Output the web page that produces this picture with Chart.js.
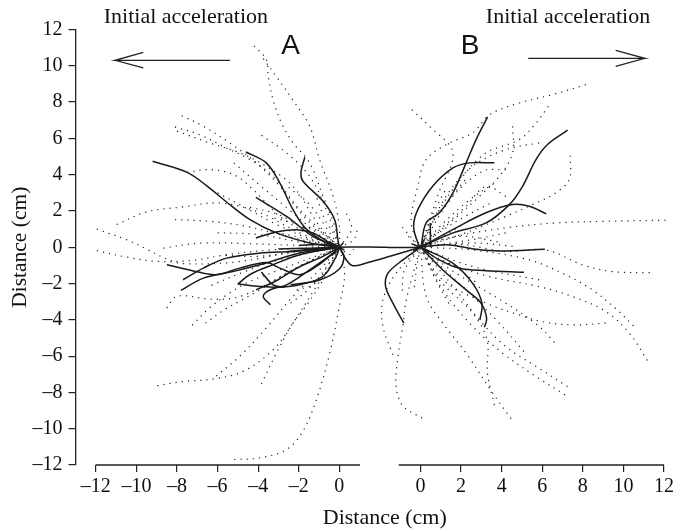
<!DOCTYPE html>
<html lang="en">
<head>
<meta charset="UTF-8">
<title>Distance</title>
<script src="https://cdn.jsdelivr.net/npm/chart.js"></script>
<style>
body { margin: 0; background: #fff; }
canvas { display: block; }
</style>
</head>
<body>
<canvas id="grafico" width="675" height="531"></canvas>
<script>
// panel B sits on the same x scale, moved right by this many cm
var panelOffset = 4;
var yTicks = [-12, -10, -8, -6, -4, -2, 0, 2, 4, 6, 8, 10, 12];
var xTicksA = [-12, -10, -8, -6, -4, -2, 0];
var xTicksB = [0, 2, 4, 6, 8, 10, 12];
var xAxisA = [[-12, -12], [1.02, -12]];
var xAxisB = [[-1.07, -12], [12, -12]];

var arrowA = [[-5.39, 10.3], [-11.05, 10.3], [-9.66, 10.74], [-11.05, 10.3], [-9.66, 9.88]];
var arrowB = [[5.31, 10.41], [11.05, 10.41], [9.62, 10.85], [11.05, 10.41], [9.62, 9.97]];

var solidA = [
  [[-9.2, 4.74], [-7.5, 4.13], [-6.5, 3.36], [-5.5, 2.44], [-4.4, 1.52], [-3.1, 0.79], [-1.46, 0.24], [0, 0]],
  [[-4.6, 5.25], [-3.6, 4.65], [-2.93, 3.54], [-2.28, 2.07], [-1.6, 0.97], [-0.64, 0.24], [0, 0]],
  [[-1.7, 4.96], [-1.89, 4.1], [-1.79, 3.64], [-0.8, 2.53], [-0.23, 1.52], [-0.07, 0.42], [0, 0]],
  [[-4.11, 2.75], [-2.6, 1.7], [-1.3, 0.6], [0, 0]],
  [[-4.11, 0.51], [-3.1, 0.84], [-2.1, 0.97], [-1.3, 0.79], [-0.47, 0.24], [0, 0]],
  [[-8.5, -0.96], [-6.95, -1.37], [-6.05, -1.51], [-4.9, -1.15], [-3.6, -0.84], [-2.93, -1.15], [-1.95, -1.51], [-1.13, -1.06], [-0.3, -0.32], [0, 0]],
  [[-7.7, -1.79], [-6.7, -1.15], [-5.56, -0.6], [-3.9, -0.32], [-2.3, -0.23], [0, 0]],
  [[-7.8, -2.38], [-6.7, -1.7], [-5.2, -1.33], [-3.6, -0.87], [-1.95, -0.32], [0, 0]],
  [[-5, -2.03], [-4.4, -1.5], [-3.26, -0.96], [-1.9, -0.4], [0, 0]],
  [[-5, -2.03], [-3.9, -2.16], [-2.93, -2.2], [-1.95, -2.07], [-0.8, -1.6], [-0.15, -0.5], [0, 0]],
  [[-3.4, -3.17], [-3.75, -2.7], [-3.4, -2.34], [-2.6, -2.07], [-1.46, -1.24], [-0.3, -0.32], [0, 0]],
  [[-3.84, -1.37], [-3.26, -2.07], [-2.7, -2.2]],
  [[-4.1, -2.34], [-3.2, -1.9], [-2, -1.1], [-0.8, -0.5], [0, 0]],
  [[-2.4, -2.07], [-0.97, -1.8], [0, -1.2], [0.23, -0.5], [0, 0]],
  [[-3, -0.1], [-1.5, -0.05], [0, 0]],
  [[-2.6, -0.25], [-1.3, -0.1], [0, 0]],
  [[-2, 0.1], [-1, 0.15], [0, 0]],
  [[-0.7, 0.15], [0, 0]],
  [[-0.5, 0.3], [0, 0]],
  [[-0.3, -0.4], [0, 0]],
  [[0.2, 0.25], [0, 0]],
  [[0.25, -0.15], [0, 0]],
  [[0, 0], [1.5, 0.02], [3, -0.02], [4, 0]],
  [[0, 0], [0.34, -0.69], [0.67, -1.02], [1.33, -0.87], [2.5, -0.5], [4, 0]]
];

var dottedA = [
  [[-4.2, 11.1], [-3.6, 10.34], [-3.5, 9.4], [-3.26, 8.1], [-2.85, 6.85], [-2.28, 5.75], [-1.46, 4.65], [-0.8, 2.8], [-0.23, 1.16], [0, 0]],
  [[-3.75, 10.4], [-3.1, 9.4], [-2.28, 8.1], [-1.46, 6.67], [-0.97, 4.83], [-0.3, 2.8], [0, 1.16], [0, 0]],
  [[-7.77, 7.25], [-6.7, 6.67], [-5.4, 5.75], [-4.08, 4.65], [-2.93, 3.36], [-1.6, 1.52], [0, 0]],
  [[-8.1, 6.63], [-6.87, 6.2], [-5.56, 5.47], [-4.4, 4.83], [-3.26, 3.9], [-1.95, 2.07], [0, 0]],
  [[-8, 6.4], [-6.4, 5.75], [-4.9, 5.2], [-3.6, 4.46], [-2.28, 3.36], [-0.97, 1.16], [0, 0]],
  [[-3.84, 6.17], [-2.6, 5.2], [-1.46, 3.9], [-0.64, 2.07], [0, 0]],
  [[-7.5, 4.13], [-6.4, 4.28], [-5.2, 4], [-4.25, 3.18], [-2.93, 1.7], [-1.3, 0.6], [0, 0]],
  [[-10.97, 1.25], [-9.5, 1.95], [-7.7, 2.22], [-5.9, 2.44], [-3.9, 1.9], [-1.95, 0.79], [0, 0]],
  [[-8.1, 1.52], [-6.4, 1.43], [-4.6, 1.16], [-2.6, 0.6], [0, 0]],
  [[-11.95, 1], [-10.5, 0.42], [-9.5, -0.1], [-8.6, -0.6], [-7.7, -0.9], [-5, -0.8], [-2, -0.2], [0, 0]],
  [[-11.95, -0.19], [-10.5, -0.54], [-9, -0.78], [-7.2, -0.72], [-5.56, -0.41], [-3.26, -0.14], [0, 0]],
  [[-8.5, -3.35], [-8, -2.7], [-6.4, -2.85], [-5.2, -2.8], [-4.1, -2.34], [-2.6, -1.42], [-0.97, -0.5], [0, 0]],
  [[-7.25, -4.3], [-6.4, -3.35], [-5.4, -2.52], [-4.4, -1.88], [-2.93, -1.24], [0, 0]],
  [[-6.6, -4.18], [-5.7, -3.47], [-4.8, -2.9], [-3.9, -2.34], [-2.3, -1.24], [0, 0]],
  [[-8.97, -7.63], [-7.7, -7.4], [-6.2, -7.26], [-4.74, -6.84], [-3.26, -5.65], [-2.28, -4.18], [-1.13, -2.16], [-0.15, -0.5], [0, 0]],
  [[-6.06, -7.1], [-4.9, -6], [-3.6, -4.45], [-2.28, -2.7], [-0.97, -1.24], [0, 0]],
  [[-3.84, -7.54], [-3.1, -5.83], [-2.28, -4.18], [-1.54, -3.08], [-0.8, -1.8], [0, 0]],
  [[-5.18, -11.7], [-3.9, -11.6], [-2.6, -11.15], [-1.8, -10.15], [-1.13, -8.4], [-0.47, -5.83], [0, -3.26], [0.26, -1.43], [0, 0]],
  [[-5.2, 4.65], [-3.9, 3.4], [-2.4, 2], [-1, 0.7], [0, 0]],
  [[-6, 3], [-4.5, 2.1], [-3, 1.2], [-1.3, 0.4], [0, 0]],
  [[-6, 0.8], [-4, 0.7], [-2, 0.3], [0, 0]],
  [[-8.67, -0.05], [-6.87, 0.23], [-4.6, 0.2], [-2, 0.1], [0, 0]],
  [[-5.6, -0.45], [-4, -0.5], [-2, -0.25], [0, 0]],
  [[-6.3, -2.1], [-4.8, -1.4], [-3, -0.7], [0, 0]],
  [[-2.4, -3.08], [-1.6, -2.4], [-0.7, -1.2], [0, 0]],
  [[-2.1, -2.35], [-1.2, -2], [-0.5, -0.9], [0, 0]],
  [[-3.2, 1.6], [-2.2, 1.3], [-1, 0.6], [0, 0]],
  [[-2.5, 3.3], [-1.5, 2.4], [-0.6, 1], [0, 0]],
  [[-4.4, 2.2], [-3, 1.8], [-1.5, 0.9], [0, 0]],
  [[-3.4, 0.9], [-2, 0.55], [-0.8, 0.2], [0, 0]],
  [[-1.8, 1.1], [-1, 0.9], [-0.4, 0.4], [0, 0]],
  [[-1.1, 2.7], [-0.7, 1.5], [-0.25, 0.7], [0, 0]],
  [[0, 0], [0.6, 1], [0.3, 2]],
  [[0, 0], [0.7, 0.4], [0.9, 1]],
  [[0, 0], [0.5, -0.4], [0.7, -0.1]]
];

var solidB = [
  [[3.31, 7.18], [2.74, 5.93], [2.25, 4.65], [1.6, 3], [0.93, 1.9], [0.28, 1.34], [0.03, 0.05]],
  [[3.64, 4.65], [2.41, 4.65], [1.6, 4.37], [0.6, 3.36], [-0.13, 2.07], [-0.34, 1.16], [-0.13, 0.24], [0, 0]],
  [[7.25, 6.45], [6.26, 5.66], [5.69, 4.83], [5.03, 3.36], [4.38, 2.35], [3.23, 1.34], [1.6, 0.79], [0, 0]],
  [[6.2, 1.84], [5.36, 2.26], [4.54, 2.35], [3.23, 1.9], [1.75, 1.07], [0, 0]],
  [[0.48, 1.34], [0.5, 0]],
  [[6.13, -0.11], [3.88, -0.2], [2.74, -0.11], [1.43, 0.13], [0.44, 0.07], [0, 0]],
  [[5.1, -1.38], [3.23, -1.29], [1.92, -1.16], [0.93, -0.7], [0, 0]],
  [[2.93, -4], [3.03, -3.08], [2.56, -1.98], [1.59, -0.88], [0, 0]],
  [[3.15, -4.41], [3.26, -3.91], [2.98, -3.08], [2.25, -2.35], [1.1, -1.25], [0, 0]],
  [[-0.82, -4.18], [-1.36, -3.08], [-1.72, -2.16], [-1.6, -1.43], [-0.87, -0.7], [0, 0]],
  [[-0.45, 0.2], [0, 0]],
  [[-0.35, -0.2], [0, 0]],
  [[0.5, 0.3], [0, 0]],
  [[0.45, -0.25], [0, 0]],
  [[0.2, 0.45], [0, 0]]
];

var dottedB = [
  [[8.15, 8.96], [6.5, 8.41], [4.87, 7.95], [3.4, 7.3], [2.57, 6.3], [1.43, 5.75], [0.28, 4.83], [-0.13, 3.36], [-0.46, 1.34], [0, 0]],
  [[-0.43, 7.58], [0.44, 6.67], [1.6, 5.2], [0.9, 3], [0, 0]],
  [[7.38, 5.05], [7.33, 3.73], [6.67, 3], [5.69, 2.44], [4.2, 1.7], [1.75, 0.6], [0, 0]],
  [[12.08, 1.49], [9.13, 1.43], [6.67, 1.34], [4.2, 1.07], [1.75, 0.6], [0, 0]],
  [[6.3, 7.77], [5.7, 6.85], [4.87, 5.93], [3.23, 5.2], [2.08, 3.9], [0.93, 2.07], [0, 0]],
  [[4.54, 6.67], [4.54, 5.2], [3.88, 3.9], [2.9, 2.8], [1.43, 1.34], [0, 0]],
  [[5.85, 5.75], [4.2, 5.38], [2.57, 4.46], [1.26, 2.8], [0, 0]],
  [[4.2, 4.28], [3.07, 4.19], [1.6, 2.8], [0, 0]],
  [[4.2, 2.8], [3.23, 3.36], [2.25, 2.26], [0.77, 0.79], [0, 0]],
  [[4.2, 0.79], [2.57, 0.42], [0, 0]],
  [[4.54, 0.05], [2.57, 0.24], [0, 0]],
  [[11.3, -1.4], [9.46, -1.34], [7.98, -0.97], [6.18, -0.15], [4.2, -0.24], [2, 0.15], [0, 0]],
  [[10.5, -4.33], [9.6, -3.36], [8.47, -2.35], [7.16, -1.52], [5.36, -0.7], [2.57, -0.15], [0, 0]],
  [[11.18, -6.24], [10.3, -4.74], [9.13, -3.54], [7.5, -2.72], [5.85, -2.17], [3.4, -1.62], [0.93, -0.7], [0, 0]],
  [[9.13, -4.18], [7.5, -4.28], [6, -4.1], [4.87, -3.73], [3.23, -3.08], [1.1, -1.8], [0, 0]],
  [[7.25, -7.68], [5.85, -6.67], [4.2, -5.47], [2.9, -4], [1.75, -2.35], [0, 0]],
  [[7.13, -8.14], [5.7, -7.13], [4.05, -5.84], [2.57, -4.36], [1.1, -2.35], [0, 0]],
  [[4.46, -9.45], [3.56, -8.04], [2.25, -5.84], [1.1, -4.18], [0.28, -2.7], [0, 0]],
  [[0.08, -9.42], [-0.87, -8.74], [-1.2, -7.68], [-1.11, -6], [-0.87, -4.36], [-0.7, -2.9], [0, 0]],
  [[-1.36, -5.93], [-1.85, -4.36], [-1.85, -2.9], [-1.2, -1.43], [0, 0]],
  [[3.64, -8.7], [3.3, -6.94], [3.28, -5.1], [2.57, -3.63], [0.93, -1.8], [0, 0]],
  [[6.6, -5.25], [5.85, -4.36], [4.2, -3.08], [1.75, -1.43], [0, 0]],
  [[5.1, -5.75], [3.88, -4.18], [2.25, -2.35], [0, 0]],
  [[5.85, -1.8], [2.57, -1.06], [0, 0]],
  [[3.6, 3.5], [2.4, 2.6], [1.1, 1.3], [0, 0]],
  [[3.4, 2.4], [2.2, 1.7], [0.9, 0.8], [0, 0]],
  [[2.2, 3.7], [1.4, 2.6], [0.5, 1.2], [0, 0]],
  [[1.2, 3.1], [0.6, 1.8], [0, 0]],
  [[3.8, 0.3], [2.2, 0.6], [0.9, 0.4], [0, 0]],
  [[-0.9, -2.4], [-0.8, -1.3], [0, 0]],
  [[-0.3, -2.2], [-0.2, -1.2], [0, 0]],
  [[1.4, -3.1], [0.8, -1.9], [0, 0]],
  [[-0.6, 0.6], [-0.3, 0.3], [0, 0]],
  [[-0.9, 1.1], [-0.5, 0.6], [0, 0]],
  [[2.7, -1.9], [1.6, -1], [0.5, -0.4], [0, 0]],
  [[2, 1.2], [1.1, 0.6], [0, 0]]
];

function toPoints(linha, desloc) {
  return linha.map(function (p) { return { x: p[0] + desloc, y: p[1] }; });
}

function solida(linha, desloc) {
  return { data: toPoints(linha, desloc), borderColor: '#1a1a1a', borderWidth: 1.5, pointRadius: 0, tension: 0.35, clip: false };
}

function pontilhada(linha, desloc) {
  return { data: toPoints(linha, desloc), borderColor: '#222', borderWidth: 1.2, borderDash: [1.2, 5], pointRadius: 0, tension: 0.35, clip: false };
}

function reta(linha, desloc, largura) {
  return { data: toPoints(linha, desloc), borderColor: '#222', borderWidth: largura, pointRadius: 0, tension: 0, clip: false };
}

var datasets = [];
dottedA.forEach(function (l) { datasets.push(pontilhada(l, 0)); });
dottedB.forEach(function (l) { datasets.push(pontilhada(l, panelOffset)); });
solidA.forEach(function (l) { datasets.push(solida(l, 0)); });
solidB.forEach(function (l) { datasets.push(solida(l, panelOffset)); });
datasets.push(reta(arrowA, 0, 1.3));
datasets.push(reta(arrowB, panelOffset, 1.3));
datasets.push(reta(xAxisA, 0, 1.3));
datasets.push(reta(xAxisB, panelOffset, 1.3));

var textos = {
  id: 'textos',
  afterDraw: function (chart) {
    var ctx = chart.ctx, sx = chart.scales.x, sy = chart.scales.y;
    ctx.save();
    ctx.fillStyle = '#111';
    ctx.textAlign = 'center';
    ctx.textBaseline = 'middle';
    ctx.font = '22px "Liberation Serif"';
    ctx.fillText('Initial acceleration', sx.getPixelForValue(-7.56), sy.getPixelForValue(12.68));
    ctx.fillText('Initial acceleration', sx.getPixelForValue(11.27), sy.getPixelForValue(12.68));
    ctx.fillText('Distance (cm)', sx.getPixelForValue(2.24), 518);
    ctx.font = '28px "Liberation Sans"';
    ctx.fillText('A', sx.getPixelForValue(-2.4), sy.getPixelForValue(11.05));
    ctx.fillText('B', sx.getPixelForValue(2.45 + panelOffset), sy.getPixelForValue(11.05));
    ctx.restore();
  }
};

var fonteEixo = { family: '"Liberation Serif"', size: 20 };

new Chart(document.getElementById('grafico'), {
  type: 'line',
  data: { datasets: datasets },
  plugins: [textos],
  options: {
    responsive: false,
    animation: false,
    layout: { padding: { top: 29.5, right: 11, left: 0, bottom: 0 } },
    plugins: { legend: { display: false }, tooltip: { enabled: false } },
    scales: {
      x: {
        type: 'linear',
        min: -13,
        max: 12 + panelOffset,
        border: { display: false },
        grid: { drawOnChartArea: false, drawTicks: true, tickLength: 7, color: '#222', lineWidth: 1.2 },
        afterBuildTicks: function (eixo) {
          eixo.ticks = xTicksA.concat(xTicksB.map(function (v) { return v + panelOffset; })).map(function (v) { return { value: v }; });
        },
        afterFit: function (eixo) {
          eixo.height = 66;
          eixo.paddingLeft = 0;
          eixo.paddingRight = 0;
        },
        ticks: {
          autoSkip: false,
          maxRotation: 0,
          padding: 3,
          color: '#111',
          font: fonteEixo,
          callback: function (v) {
            var n = v > 0 ? v - panelOffset : v;
            return String(n).replace('-', '–');
          }
        }
      },
      y: {
        type: 'linear',
        min: -12,
        max: 12,
        border: { display: true, color: '#222', width: 1.3 },
        grid: { drawOnChartArea: false, drawTicks: true, tickLength: 7, color: '#222', lineWidth: 1.2 },
        afterBuildTicks: function (eixo) {
          eixo.ticks = yTicks.map(function (v) { return { value: v }; });
        },
        afterFit: function (eixo) {
          eixo.width = 75.5;
          eixo.paddingTop = 0;
          eixo.paddingBottom = 0;
        },
        ticks: {
          autoSkip: false,
          padding: 6,
          color: '#111',
          font: fonteEixo,
          callback: function (v) { return String(v).replace('-', '–'); }
        },
        title: { display: true, text: 'Distance (cm)', color: '#111', font: { family: '"Liberation Serif"', size: 21.5 }, padding: { top: 7, bottom: 0 } }
      }
    }
  }
});
</script>
</body>
</html>
